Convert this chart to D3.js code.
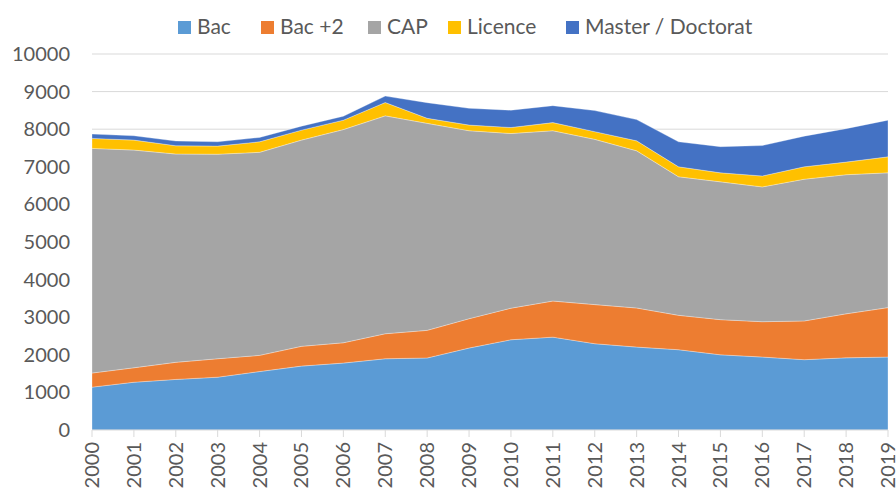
<!DOCTYPE html>
<html>
<head>
<meta charset="utf-8">
<script src="https://cdn.jsdelivr.net/npm/d3@7"></script>
<style>
  body { margin: 0; background: #fff; }
  text { font-family: Lato, "Open Sans", "Liberation Sans", sans-serif; fill: #595959; }
</style>
</head>
<body>
<div id="chart"></div>
<script>
// data
var years = [2000, 2001, 2002, 2003, 2004, 2005, 2006, 2007, 2008, 2009,
             2010, 2011, 2012, 2013, 2014, 2015, 2016, 2017, 2018, 2019]
var bac     = [1140, 1270, 1345, 1405, 1555, 1700, 1780, 1895, 1915, 2180,
               2400, 2470, 2295, 2205, 2135, 2000, 1940, 1870, 1920, 1940]
var bac2    = [375, 385, 455, 490, 430, 525, 540, 665, 735, 780,
               840, 960, 1040, 1040, 915, 935, 940, 1030, 1170, 1315]
var cap     = [5975, 5790, 5540, 5440, 5400, 5485, 5670, 5795, 5505, 5000,
               4645, 4530, 4395, 4180, 3685, 3665, 3585, 3770, 3700, 3585]
var licence = [265, 265, 220, 215, 280, 265, 250, 355, 135, 150,
               160, 215, 205, 265, 265, 240, 290, 330, 335, 425]
var master  = [115, 115, 125, 115, 115, 105, 105, 170, 415, 445,
               460, 450, 560, 565, 665, 695, 810, 815, 890, 975]
var seriesNames = ['Bac', 'Bac +2', 'CAP', 'Licence', 'Master / Doctorat']
var seriesColors = ['#5b9bd5', '#ed7d31', '#a5a5a5', '#ffc000', '#4472c4']
var yTicks = [0, 1000, 2000, 3000, 4000, 5000, 6000, 7000, 8000, 9000, 10000]

var width = 896, height = 493,
    margin = {top: 54, bottom: 63, left: 92, right: 8}

var svg = d3.select('#chart').append('svg').attr('width', width).attr('height', height)

var table = years.map((y, i) => ({
  year: y, 'Bac': bac[i], 'Bac +2': bac2[i], 'CAP': cap[i],
  'Licence': licence[i], 'Master / Doctorat': master[i]
}))
var stacked = d3.stack().keys(seriesNames)(table)

var x = d3.scaleLinear().domain([years[0], years[years.length - 1]])
  .range([margin.left, width - margin.right])
var y = d3.scaleLinear().domain([0, 10000]).range([height - margin.bottom, margin.top])

// grid
svg.append('g').selectAll('line').data(yTicks.slice(1)).join('line')
  .attr('x1', margin.left).attr('x2', width - margin.right)
  .attr('y1', d => y(d)).attr('y2', d => y(d))
  .attr('stroke', '#d9d9d9').attr('stroke-width', 1)

// areas
var area = d3.area().x(d => x(d.data.year)).y0(d => y(d[0])).y1(d => y(d[1]))
svg.append('g').selectAll('path').data(stacked).join('path')
  .attr('d', area)
  .attr('fill', (d, i) => seriesColors[i])
  .attr('stroke', 'rgba(255,255,255,0.5)').attr('stroke-width', 0.6)

// y axis labels
svg.append('g').selectAll('text').data(yTicks).join('text')
  .attr('x', 70).attr('y', d => y(d)).attr('dy', '0.35em')
  .attr('text-anchor', 'end').attr('font-size', 20)
  .text(d => d)

// x axis
var xAxis = svg.append('g').attr('transform', 'translate(0,' + y(0) + ')')
xAxis.append('line').attr('x1', margin.left).attr('x2', width - margin.right)
  .attr('stroke', '#d9d9d9')
xAxis.selectAll('line.tick').data(years).join('line').classed('tick', true)
  .attr('x1', d => x(d)).attr('x2', d => x(d)).attr('y1', 0).attr('y2', 7)
  .attr('stroke', '#d9d9d9')
xAxis.selectAll('text').data(years).join('text')
  .attr('transform', d => 'translate(' + x(d) + ',12) rotate(-90)')
  .attr('text-anchor', 'end').attr('dy', '0.35em').attr('font-size', 20)
  .text(d => d)

// legend
var legendX = [178, 261, 368, 448, 566]
var legend = svg.append('g').selectAll('g').data(seriesNames).join('g')
  .attr('transform', (d, i) => 'translate(' + legendX[i] + ',27)')
legend.append('rect').attr('x', 0).attr('y', -6).attr('width', 13).attr('height', 13)
  .attr('fill', (d, i) => seriesColors[i])
legend.append('text').attr('x', 19).attr('dy', '0.35em').attr('font-size', 21).text(d => d)
</script>
</body>
</html>
